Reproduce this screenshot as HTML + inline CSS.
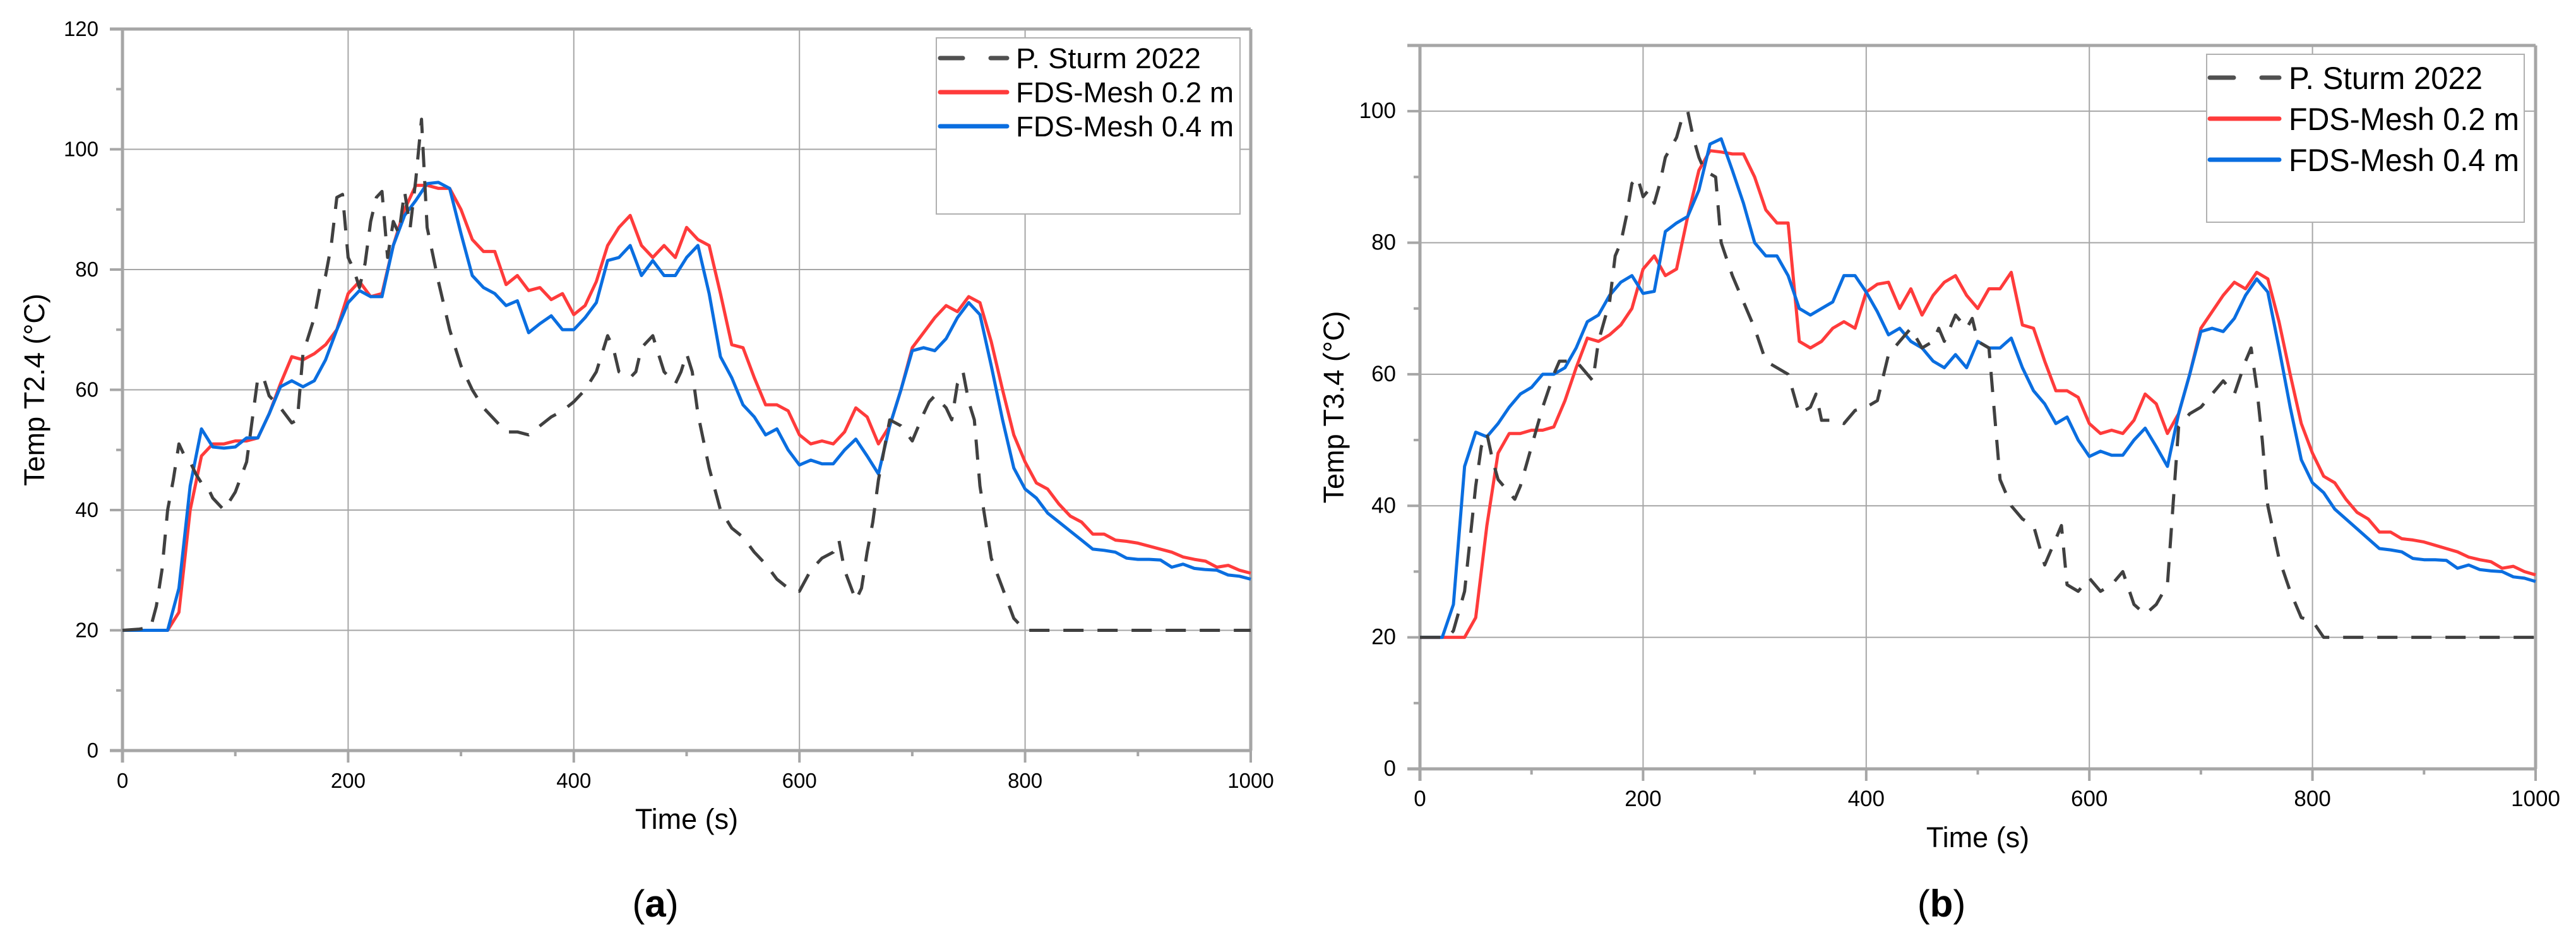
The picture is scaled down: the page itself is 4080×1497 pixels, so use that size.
<!DOCTYPE html>
<html><head><meta charset="utf-8"><style>
body{margin:0;background:#fff}
svg{display:block}
text{font-family:"Liberation Sans",sans-serif;fill:#000}
</style></head><body>
<svg id="svg" width="4080" height="1497" xmlns="http://www.w3.org/2000/svg"></svg>
<script>
// ---- data (a) ----
const tA_red=[0,40,50,60,70,80,90,100,110,120,130,140,150,160,170,180,190,200,210,220,230,240,250,260,270,280,290,300,310,320,330,340,350,360,370,380,390,400,410,420,430,440,450,460,470,480,490,500,510,520,530,540,550,560,570,580,590,600,610,620,630,640,650,660,670,680,690,700,710,720,730,740,750,760,770,780,790,800,810,820,830,840,850,860,870,880,890,900,910,920,930,940,950,960,970,980,990,1000];
const vA_red=[20,20,23,40,49,51,51,51.5,51.5,52,56,61,65.5,65,66,67.5,70,76,78,75.5,76,84,90,94,94,93.5,93.5,90,85,83,83,77.5,79,76.5,77,75,76,72.5,74,78,84,87,89,84,82,84,82,87,85,84,76,67.5,67,62,57.5,57.5,56.5,52.5,51,51.5,51,53,57,55.5,51,54,60,67,69.5,72,74,73,75.5,74.5,68,60,52.5,48,44.5,43.5,41,39,38,36,36,35,34.8,34.5,34,33.5,33,32.2,31.8,31.5,30.5,30.8,30,29.5];
const vA_blue=[20,20,27,44,53.5,50.5,50.3,50.5,52,52,56,60.5,61.5,60.5,61.5,65,70,74.5,76.5,75.5,75.5,84,89,91.5,94.3,94.5,93.5,86,79,77,76,74,74.8,69.5,71,72.3,70,70,72,74.5,81.5,82,84,79,81.5,79,79,82,84,76,65.5,62,57.5,55.5,52.5,53.5,50,47.5,48.3,47.7,47.7,50,51.8,49,46,54,60,66.5,67,66.5,68.5,72,74.5,72.5,64,55,47,43.5,42,39.5,38,36.5,35,33.5,33.3,33,32,31.8,31.8,31.7,30.5,31,30.3,30.1,30,29.2,29,28.5];
const tA_exp=[0,15,25,30,35,40,45,50,55,60,65,70,75,80,90,100,110,115,120,125,130,140,150,155,160,170,175,180,185,190,195,200,205,210,215,220,225,230,235,240,245,250,255,260,265,270,280,290,300,310,320,330,340,350,360,370,380,390,400,410,420,430,435,440,450,455,460,470,475,480,490,495,500,505,510,520,530,540,550,560,570,580,590,600,610,620,630,635,640,650,655,660,665,670,675,680,690,700,710,715,720,730,735,740,745,750,755,760,770,780,790,800,810,1000];
const vA_exp=[20,20.2,20.5,24,30,40,45,51,49,48,46,44.5,44,42,40,43,48,55,62,62,59,57,54.5,55,66,72,77,79,84,92,92.5,82,80,77,81,88,92,93,82,88,86,93,87,95,105,87,78,70,64,60,57,55,53,53,52.5,54,55.5,56.5,58,60,63,69,67,63,62,63,67,69,66,63,61,63,66,63,56,47,40,37,35.5,33,31,28.5,27,26.5,30,32,33,35,30,25,27,33,38,45,50,55,54,51.5,56,58,59,57,55,61,63,58,55,44,32,27,22,20,20,20];
// ---- data (b) ----
const vB_red=[20,20,23,37,48,51,51,51.5,51.5,52,56,61,65.5,65,66,67.5,70,76,78,75,76,84,91,94,93.8,93.5,93.5,90,85,83,83,65,64,65,67,68,67,72.5,73.7,74,70,73,69,72,74,75,72,70,73,73,75.5,67.5,67,62,57.5,57.5,56.5,52.5,51,51.5,51,53,57,55.5,51,54,60,67,69.5,72,74,73,75.5,74.5,68,60,52.5,48,44.5,43.5,41,39,38,36,36,35,34.8,34.5,34,33.5,33,32.2,31.8,31.5,30.5,30.8,30,29.5];
const tB_blue=[0,20,30,40,50,60,70,80,90,100,110,120,130,140,150,160,170,180,190,200,210,220,230,240,250,260,270,280,290,300,310,320,330,340,350,360,370,380,390,400,410,420,430,440,450,460,470,480,490,500,510,520,530,540,550,560,570,580,590,600,610,620,630,640,650,660,670,680,690,700,710,720,730,740,750,760,770,780,790,800,810,820,830,840,850,860,870,880,890,900,910,920,930,940,950,960,970,980,990,1000];
const vB_blue=[20,20,25,46,51.2,50.5,52.5,55,57,58,60,60,61,64,68,69,72,74,75,72.3,72.6,81.7,83,84,88,95,95.8,91,86,80,78,78,75,70,69,70,71,75,75,72.5,69.5,66,67,65,64,62,61,63,61,65,64,64,65.5,61,57.5,55.5,52.5,53.5,50,47.5,48.3,47.7,47.7,50,51.8,49,46,54,60,66.5,67,66.5,68.5,72,74.5,72.5,64,55,47,43.5,42,39.5,38,36.5,35,33.5,33.3,33,32,31.8,31.8,31.7,30.5,31,30.3,30.1,30,29.2,29,28.5];
const tB_exp=[0,25,30,40,45,50,55,60,65,70,80,85,90,100,110,120,125,130,140,150,155,160,170,175,180,185,190,195,200,205,210,215,220,230,235,240,245,250,255,260,265,270,280,290,300,310,320,330,340,350,355,360,370,380,390,400,410,420,430,440,450,460,465,470,480,490,495,500,510,520,530,540,550,560,570,575,580,590,600,610,620,630,640,650,660,670,675,680,690,700,710,720,730,740,745,750,755,760,770,780,790,800,810,1000];
const vB_exp=[20,20,21,27,35,43,49,51,47,44,42,41,43,49,55,60,62,62,62,60,59,65,71,78,80,84,89,90,87,88,86,89,93,96,99,100,96,93,91,90.5,90,80,75,71,67,62,61,60,54,55,57,53,53,52.5,54.5,55,56,63,65,67,64,65,67,65,69,67,68.5,65,64,44,40,38,37,31,35,37,28,27,29,27,28,30,25,23.5,25,28,40,52,54,55,57,59,57,62,64,58,50,40,32,27,23,22.5,20,20];
const xTicks=[0,200,400,600,800,1000];
const yTicksA=[0,20,40,60,80,100,120];
const yTicksB=[0,20,40,60,80,100];

const NS="http://www.w3.org/2000/svg";
const svg=document.getElementById('svg');
function mk(tag,attrs,parent){const e=document.createElementNS(NS,tag);for(const k in attrs)e.setAttribute(k,attrs[k]);(parent||svg).appendChild(e);return e;}

function chart(cfg){
  const g=mk('g',{});
  
  
  const X=v=>cfg.x0+(v/1000)*(cfg.x1-cfg.x0);
  const Y=v=>cfg.y0-(v/cfg.yMax)*(cfg.y0-cfg.top);
  const top=cfg.top;
  const fs=cfg.fs;
  for(const t of xTicks){ if(t===0)continue;
    const l=mk('line',{x1:X(t),x2:X(t),y1:top,y2:cfg.y0,stroke:'#a6a6a6','stroke-width':2},g);
    
    }
  for(const t of cfg.yTicks){ if(t===0)continue;
    const l=mk('line',{x1:cfg.x0,x2:cfg.x1,y1:Y(t),y2:Y(t),stroke:'#a6a6a6','stroke-width':2},g);
    
    }
  mk('line',{x1:cfg.x0-20,x2:cfg.x1,y1:top,y2:top,stroke:'#a6a6a6','stroke-width':5},g);
  mk('line',{x1:cfg.x1,x2:cfg.x1,y1:top,y2:cfg.y0,stroke:'#a6a6a6','stroke-width':5},g);
  const xa=mk('line',{x1:cfg.x0-20,x2:cfg.x1,y1:cfg.y0,y2:cfg.y0,stroke:'#a6a6a6','stroke-width':5},g);
  
  
  const ya=mk('line',{x1:cfg.x0,x2:cfg.x0,y1:top,y2:cfg.y0+19,stroke:'#a6a6a6','stroke-width':5},g);
  
  
  for(let t=100;t<=1000;t+=100){const big=t%200===0;
    mk('line',{x1:X(t),x2:X(t),y1:cfg.y0,y2:cfg.y0+(big?19:9),stroke:'#a6a6a6','stroke-width':4},g);}
  for(let t=10;t<=cfg.yMax;t+=10){const big=t%20===0;
    mk('line',{x1:cfg.x0-(big?20:10),x2:cfg.x0,y1:Y(t),y2:Y(t),stroke:'#a6a6a6','stroke-width':4},g);}
  for(const t of xTicks){const tx=mk('text',{x:X(t),y:cfg.y0+59,'font-size':fs,'text-anchor':'middle'},g);tx.textContent=t;
    
    }
  for(const t of cfg.yTicks){const tx=mk('text',{x:cfg.x0-38,y:Y(t)+11,'font-size':fs,'text-anchor':'end'},g);tx.textContent=t;
    
    }
  const xt=mk('text',{x:(cfg.x0+cfg.x1)/2,y:cfg.xty,'font-size':cfg.tfs,'text-anchor':'middle'},g);xt.textContent='Time (s)';
  
  
  const yc=(top+cfg.y0)/2;
  const yt=mk('text',{x:cfg.ytx,y:yc,'font-size':cfg.tfs,'text-anchor':'middle',transform:`rotate(-90 ${cfg.ytx} ${yc})`},g);yt.textContent=cfg.ytitle;
  
  
  function line(ts,vs,color,dash,name){
    const d=ts.map((t,i)=>(i?'L':'M')+X(t).toFixed(1)+' '+Y(vs[i]).toFixed(1)).join(' ');
    const p=mk('path',{d,fill:'none',stroke:color,'stroke-width':5,'stroke-linejoin':'round'},g);
    if(dash)p.setAttribute('stroke-dasharray',dash);
    
    
  }
  line(cfg.tr,cfg.red,'#ff3b3b',null,'series-fds-mesh-0.2');
  line(cfg.tb,cfg.blue,'#0a6ee0',null,'series-fds-mesh-0.4');
  line(cfg.te,cfg.exp,'#404040','32 22','series-p-sturm-2022');
  const L=cfg.leg;
  const lg=mk('g',{},g);
  
  
  mk('rect',{x:L.x,y:L.y,width:L.w,height:L.h,fill:'#fff',stroke:'#b0b0b0','stroke-width':2},lg);
  const items=[['P. Sturm 2022','#505050',true],['FDS-Mesh 0.2 m','#ff3b3b',false],['FDS-Mesh 0.4 m','#0a6ee0',false]];
  items.forEach((it,i)=>{const yy=L.ly+i*L.dy;
    const ln=mk('line',{x1:L.x+L.lx0,x2:L.x+L.lx1,y1:yy,y2:yy,stroke:it[1],'stroke-width':7,'stroke-linecap':'round'},lg);
    if(it[2])ln.setAttribute('stroke-dasharray',L.dash);
    const tx=mk('text',{x:L.tx,y:yy+L.tb,'font-size':L.fs,textLength:i?L.w2:L.w1,lengthAdjust:'spacingAndGlyphs'},lg);tx.textContent=it[0];
    
    });
  const cap=mk('text',{x:cfg.capx,y:1452,'font-size':60,'text-anchor':'middle','font-family':'Liberation Serif, serif'},g);
  cap.innerHTML='(<tspan font-weight="bold">'+cfg.cap+'</tspan>)';
  
  
}
chart({name:'chart-a',x0:194,x1:1981,y0:1189,top:46,yMax:120,yTicks:yTicksA,ytx:70,ytitle:'Temp T2.4 (°C)',fs:33,tfs:45,xty:1313,
  tr:tA_red,red:vA_red,tb:tA_red,blue:vA_blue,te:tA_exp,exp:vA_exp,
  leg:{x:1483,y:60,w:481,h:279,ly:92,dy:54,lx0:6,lx1:112,tx:1609,tb:16,fs:45,w1:293,w2:345,dash:'36 44'},capx:1038,cap:'a'});
chart({name:'chart-b',x0:2249,x1:4016,y0:1218,top:72,yMax:110,yTicks:yTicksB,ytx:2128,ytitle:'Temp T3.4 (°C)',fs:35,tfs:45,xty:1342,
  tr:tA_red,red:vB_red,tb:tB_blue,blue:vB_blue,te:tB_exp,exp:vB_exp,
  leg:{x:3495,y:86,w:503,h:266,ly:123,dy:65,lx0:5,lx1:115,tx:3625,tb:18,fs:50,w1:307,w2:365,dash:'38 44'},capx:3075,cap:'b'});
</script>
</body></html>
